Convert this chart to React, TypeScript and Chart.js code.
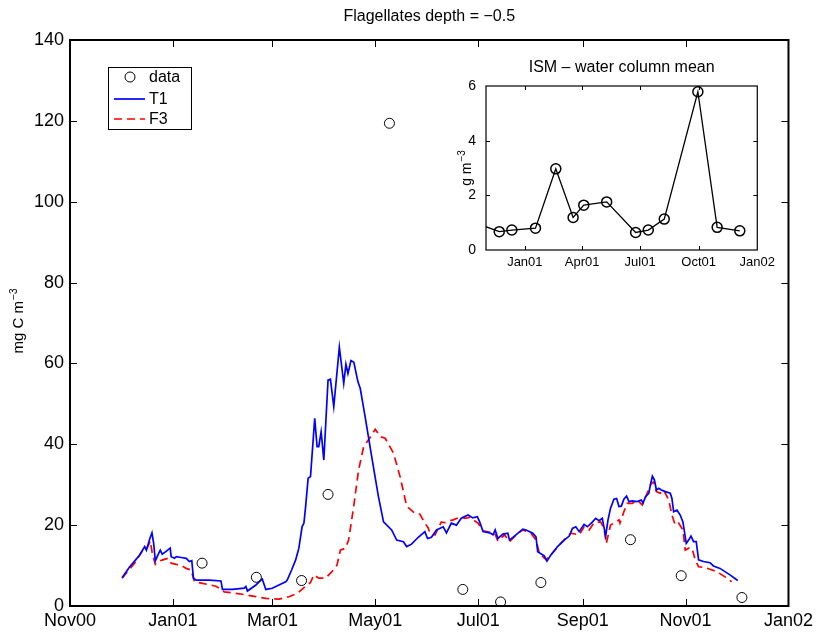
import React, { useEffect, useRef } from "react";
import { Chart, registerables } from "chart.js";

Chart.register(...registerables);

const FONT = "'Liberation Sans', Arial, Helvetica, sans-serif";

// x values are days since 1 Nov 2000
const xTickDays = [0, 61, 120, 181, 242, 304, 365, 426];
const xTickLabels = ["Nov00", "Jan01", "Mar01", "May01", "Jul01", "Sep01", "Nov01", "Jan02"];
const yTickValues = [0, 20, 40, 60, 80, 100, 120, 140];

const insetTickDays = [61, 151, 242, 334, 426];
const insetTickLabels = ["Jan01", "Apr01", "Jul01", "Oct01", "Jan02"];
const insetYTicks = [0, 2, 4, 6];

const obsDays = [78.3, 110.5, 137.3, 153.0, 189.4, 232.9, 255.3, 279.2, 332.3, 362.4, 398.4];
const obsValues = [10.6, 7.1, 6.3, 27.6, 119.4, 4.1, 1.0, 5.8, 16.4, 7.5, 2.1];

const t1Days = [
  30.9, 35.4, 38.3, 41.3, 44.3, 45.3, 47.2, 48.6, 49.6, 50.6,
  52.1, 53.5, 54.7, 56.6, 59.4, 60.0, 62.0, 63.0, 65.9, 68.9,
  70.8, 72.2, 73.2, 74.8, 82.6, 89.5, 90.4, 96.3, 103.3, 104.3,
  105.2, 110.2, 114.0, 116.1, 119.9, 123.9, 127.9, 128.8, 131.4, 133.8,
  135.7, 137.6, 138.7, 139.7, 141.2, 142.6, 145.1, 146.5, 147.5, 148.9,
  150.5, 153.0, 154.4, 156.4, 159.7, 162.3, 163.6, 164.8, 166.6, 168.3,
  170.7, 172.1, 175.0, 178.9, 182.9, 185.9, 190.7, 193.7, 197.7, 199.6,
  202.5, 206.5, 210.4, 212.0, 214.3, 217.3, 221.3, 223.2, 226.1, 229.1,
  232.0, 236.0, 238.9, 241.5, 242.9, 244.9, 248.8, 250.8, 252.1, 253.7,
  256.7, 259.6, 260.6, 263.5, 268.5, 270.4, 274.4, 276.3, 277.3, 281.2,
  282.8, 285.1, 289.1, 293.0, 296.0, 297.9, 299.9, 301.9, 304.8, 306.8,
  309.8, 311.7, 313.7, 315.6, 317.6, 319.0, 320.5, 322.5, 324.1, 325.5,
  326.9, 328.4, 330.0, 331.4, 333.4, 335.9, 338.7, 339.8, 341.2, 343.2,
  344.1, 345.3, 346.5, 347.7, 349.1, 350.6, 353.0, 355.9, 356.9, 357.9,
  359.9, 361.8, 363.4, 365.4, 366.8, 368.2, 369.7, 371.3, 372.7, 375.6,
  379.5, 381.5, 385.4, 391.3, 395.9,
];
const t1Values = [
  7.0, 9.7, 11.1, 12.6, 14.7, 13.8, 16.5, 18.1, 15.5, 11.2,
  12.6, 13.8, 12.8, 13.4, 14.3, 12.2, 11.8, 12.2, 12.0, 11.8,
  11.0, 11.2, 6.9, 6.4, 6.4, 6.2, 4.1, 4.1, 4.4, 4.8,
  3.7, 5.2, 6.7, 4.1, 4.4, 5.2, 6.0, 6.4, 8.9, 11.4,
  14.3, 19.6, 20.5, 24.6, 31.6, 32.0, 46.4, 39.4, 39.4, 43.1,
  36.1, 55.9, 56.1, 49.3, 64.0, 55.1, 59.8, 57.5, 60.7, 60.3,
  55.5, 53.8, 46.8, 36.9, 27.0, 20.8, 18.8, 16.3, 15.9, 14.7,
  15.3, 17.0, 18.4, 16.7, 17.0, 18.8, 19.6, 18.1, 20.5, 20.0,
  21.7, 22.5, 21.8, 22.1, 20.8, 18.4, 18.1, 17.6, 18.8, 16.7,
  17.8, 18.0, 16.3, 17.3, 19.0, 18.8, 18.0, 17.1, 13.4, 12.4,
  11.1, 12.6, 14.7, 16.3, 17.3, 19.2, 19.6, 18.4, 20.2, 19.6,
  20.8, 21.7, 21.1, 21.7, 17.3, 21.3, 24.2, 26.4, 26.6, 24.6,
  24.7, 26.4, 27.2, 25.8, 26.0, 25.8, 26.2, 25.5, 27.0, 27.9,
  29.9, 32.1, 31.2, 28.7, 29.1, 28.7, 28.3, 27.9, 26.6, 23.3,
  23.7, 22.5, 20.8, 15.5, 16.3, 17.3, 15.9, 15.9, 11.4, 11.0,
  10.7, 9.9, 9.3, 7.7, 6.3,
];

const f3Days = [
  30.9, 38.3, 43.2, 45.3, 46.6, 47.6, 48.8, 50.6, 52.1, 55.0,
  58.0, 60.0, 63.0, 65.9, 68.9, 71.8, 73.8, 78.6, 86.6, 91.5,
  102.2, 110.2, 116.1, 123.9, 129.8, 134.7, 139.7, 142.6, 144.6, 147.5,
  151.5, 155.3, 158.3, 160.3, 163.3, 165.2, 168.2, 171.1, 174.1, 177.0,
  181.0, 183.9, 186.9, 191.8, 195.7, 199.6, 204.6, 207.5, 210.4, 212.4,
  213.4, 216.4, 220.2, 222.2, 225.2, 227.2, 232.0, 234.0, 237.0, 241.9,
  244.9, 251.8, 253.7, 257.7, 260.6, 265.5, 268.5, 273.3, 276.3, 278.3,
  282.2, 285.1, 291.0, 297.0, 301.9, 304.8, 307.8, 310.7, 314.6, 316.6,
  318.0, 320.5, 322.5, 325.5, 326.1, 328.4, 330.4, 333.4, 336.3, 339.3,
  342.2, 344.6, 346.1, 347.7, 350.0, 352.0, 355.0, 356.9, 358.9, 360.9,
  363.4, 364.8, 366.8, 368.8, 370.7, 372.7, 375.6, 379.5, 383.5, 388.4, 392.3,
];
const f3Values = [
  6.9, 10.6, 13.8, 14.0, 15.1, 16.1, 13.0, 10.3, 11.0, 11.4,
  11.8, 10.6, 10.3, 10.1, 9.3, 8.9, 6.0, 5.6, 4.9, 3.5,
  2.9, 2.3, 1.9, 1.7, 2.3, 3.1, 4.9, 5.8, 7.7, 6.9,
  6.9, 8.5, 10.1, 13.8, 14.3, 16.3, 24.6, 33.6, 39.4, 41.1,
  43.7, 41.9, 41.5, 37.8, 32.0, 24.7, 22.9, 22.7, 20.5, 19.3,
  18.0, 17.6, 20.8, 20.6, 21.1, 21.3, 22.1, 21.7, 21.9, 20.5,
  18.6, 18.0, 16.1, 17.6, 15.9, 18.0, 18.8, 18.0, 16.3, 13.0,
  11.5, 12.6, 15.5, 18.0, 17.6, 19.6, 18.8, 20.6, 20.8, 19.2,
  15.5, 20.0, 20.5, 21.3, 20.5, 23.3, 25.4, 25.4, 26.2, 25.0,
  27.9, 30.3, 30.7, 28.3, 27.9, 28.7, 26.2, 22.5, 20.0, 20.5,
  18.8, 13.8, 14.3, 14.3, 11.4, 9.7, 9.6, 9.1, 8.5, 7.2, 6.0,
];

const ismDays = [-6, 20.8, 40.6, 77.7, 109.6, 136.8, 153.5, 189.5, 235.0, 254.8, 279.9, 332.7, 363.0, 398.5];
const ismValues = [0.9, 0.67, 0.73, 0.8, 2.97, 1.19, 1.64, 1.76, 0.64, 0.73, 1.13, 5.79, 0.83, 0.7];

const pts = (xs: number[], ys: number[]) => xs.map((x, i) => ({ x, y: ys[i] }));

function drawSupLabel(ctx: CanvasRenderingContext2D, cx: number, cy: number, base: string, sup: string, size: number, supSize: number) {
  ctx.save();
  ctx.translate(cx, cy);
  ctx.rotate(-Math.PI / 2);
  ctx.fillStyle = "#000";
  ctx.textAlign = "left";
  ctx.textBaseline = "alphabetic";
  ctx.font = `${size}px ${FONT}`;
  const w1 = ctx.measureText(base).width;
  ctx.font = `${supSize}px ${FONT}`;
  const w2 = ctx.measureText(sup).width;
  const start = -(w1 + w2 + 1) / 2;
  ctx.font = `${size}px ${FONT}`;
  ctx.fillText(base, start, size * 0.36);
  ctx.font = `${supSize}px ${FONT}`;
  ctx.fillText(sup, start + w1 + 1, size * 0.36 - size * 0.45);
  ctx.restore();
}

function drawFrame(chart: any, xt: number[], yt: number[], tickLen: number, boxWidth: number) {
  const { ctx, chartArea: a, scales } = chart;
  ctx.save();
  ctx.strokeStyle = "#000";
  ctx.lineWidth = 1;
  ctx.beginPath();
  for (const v of xt) {
    const px = Math.round(scales.x.getPixelForValue(v)) + 0.5;
    if (px <= a.left + 2 || px >= a.right - 2) continue;
    ctx.moveTo(px, a.bottom);
    ctx.lineTo(px, a.bottom - tickLen);
    ctx.moveTo(px, a.top);
    ctx.lineTo(px, a.top + tickLen);
  }
  for (const v of yt) {
    const py = Math.round(scales.y.getPixelForValue(v)) + 0.5;
    if (py <= a.top + 2 || py >= a.bottom - 2) continue;
    ctx.moveTo(a.left, py);
    ctx.lineTo(a.left + tickLen, py);
    ctx.moveTo(a.right, py);
    ctx.lineTo(a.right - tickLen, py);
  }
  ctx.stroke();
  ctx.lineWidth = boxWidth;
  ctx.strokeRect(a.left, a.top, a.right - a.left, a.bottom - a.top);
  ctx.restore();
}

const mainPlugin = {
  id: "mainDecor",
  afterDraw(chart: any) {
    const { ctx, chartArea: a } = chart;
    drawFrame(chart, xTickDays, yTickValues, 7, 2);
    ctx.save();
    ctx.fillStyle = "#000";
    ctx.font = `16px ${FONT}`;
    ctx.textAlign = "center";
    ctx.textBaseline = "middle";
    ctx.fillText("Flagellates depth = \u22120.5", (a.left + a.right) / 2, 17);
    ctx.restore();
    drawSupLabel(ctx, 18, 321, "mg C m", "\u22123", 15, 10);

    // legend
    const ds = chart.data.datasets;
    const lx = a.left + 38;
    const ly = a.top + 27;
    const lw = 83;
    const lh = 62;
    ctx.save();
    ctx.fillStyle = "#fff";
    ctx.fillRect(lx, ly, lw, lh);
    ctx.strokeStyle = "#000";
    ctx.lineWidth = 1;
    ctx.strokeRect(lx + 0.5, ly + 0.5, lw, lh);
    const rows = [ly + 10, ly + 32, ly + 52];
    ctx.font = `16px ${FONT}`;
    ctx.textAlign = "left";
    ctx.textBaseline = "middle";
    ds.forEach((d: any, i: number) => {
      const y = rows[i];
      ctx.save();
      if (i === 0) {
        ctx.strokeStyle = d.borderColor;
        ctx.lineWidth = 1;
        ctx.beginPath();
        ctx.arc(lx + 22, y, 5, 0, Math.PI * 2);
        ctx.stroke();
      } else {
        ctx.strokeStyle = d.borderColor;
        ctx.lineWidth = d.borderWidth;
        ctx.setLineDash(d.borderDash || []);
        ctx.beginPath();
        ctx.moveTo(lx + 6, y);
        ctx.lineTo(lx + 37, y);
        ctx.stroke();
      }
      ctx.restore();
      ctx.fillStyle = "#000";
      ctx.fillText(d.label, lx + 41, y + 1);
    });
    ctx.restore();
  },
};

const insetPlugin = {
  id: "insetDecor",
  beforeDraw(chart: any) {
    const { ctx, chartArea: a } = chart;
    ctx.save();
    ctx.fillStyle = "#fff";
    ctx.fillRect(a.left, a.top, a.right - a.left, a.bottom - a.top);
    ctx.restore();
  },
  afterDraw(chart: any) {
    const { ctx, chartArea: a } = chart;
    drawFrame(chart, insetTickDays, insetYTicks, 4, 1.2);
    ctx.save();
    ctx.fillStyle = "#000";
    ctx.font = `16px ${FONT}`;
    ctx.textAlign = "center";
    ctx.textBaseline = "middle";
    ctx.fillText("ISM \u2013 water column mean", (a.left + a.right) / 2, 18);
    ctx.restore();
    drawSupLabel(ctx, 36, 118, "g m", "\u22123", 14, 10);
  },
};

export default function App() {
  const mainRef = useRef<HTMLCanvasElement>(null);
  const insetRef = useRef<HTMLCanvasElement>(null);

  useEffect(() => {
    const main = new Chart(mainRef.current as HTMLCanvasElement, {
      type: "scatter",
      data: {
        datasets: [
          {
            label: "data",
            data: pts(obsDays, obsValues),
            showLine: false,
            pointStyle: "circle",
            pointRadius: 5,
            pointHoverRadius: 5,
            pointBorderWidth: 1,
            borderColor: "#000000",
            backgroundColor: "rgba(0,0,0,0)",
          },
          {
            label: "T1",
            data: pts(t1Days, t1Values),
            showLine: true,
            pointRadius: 0,
            borderColor: "#0000ff",
            borderWidth: 1.7,
            backgroundColor: "rgba(0,0,0,0)",
          },
          {
            label: "F3",
            data: pts(f3Days, f3Values),
            showLine: true,
            pointRadius: 0,
            borderColor: "#ff0000",
            borderWidth: 1.7,
            borderDash: [8, 5],
            backgroundColor: "rgba(0,0,0,0)",
          },
        ],
      },
      options: {
        animation: false,
        responsive: false,
        events: [],
        layout: { padding: { top: 40, right: 25, left: 0, bottom: 0 } },
        plugins: { legend: { display: false }, tooltip: { enabled: false }, title: { display: false } },
        scales: {
          x: {
            type: "linear",
            min: 0,
            max: 426,
            afterBuildTicks: (s: any) => {
              s.ticks = xTickDays.map((v) => ({ value: v }));
            },
            afterFit: (s: any) => {
              s.height = 26;
            },
            ticks: {
              autoSkip: false,
              maxRotation: 0,
              padding: 4,
              color: "#000",
              font: { family: FONT, size: 18 },
              callback: (v: any) => {
                const i = xTickDays.indexOf(Number(v));
                return i >= 0 ? xTickLabels[i] : "";
              },
            },
            grid: { display: false, drawTicks: false },
            border: { display: false },
          },
          y: {
            type: "linear",
            min: 0,
            max: 140,
            afterBuildTicks: (s: any) => {
              s.ticks = yTickValues.map((v) => ({ value: v }));
            },
            afterFit: (s: any) => {
              s.width = 70;
            },
            ticks: { padding: 6, color: "#000", font: { family: FONT, size: 18 } },
            grid: { display: false, drawTicks: false },
            border: { display: false },
          },
        },
      },
      plugins: [mainPlugin],
    } as any);

    const inset = new Chart(insetRef.current as HTMLCanvasElement, {
      type: "scatter",
      data: {
        datasets: [
          {
            label: "ISM",
            data: pts(ismDays, ismValues),
            showLine: true,
            borderColor: "#000000",
            borderWidth: 1.3,
            pointStyle: "circle",
            pointRadius: (c: any) => (ismDays[c.dataIndex] < 0 ? 0 : 5),
            pointHoverRadius: 5,
            pointBorderWidth: 1.5,
            pointBorderColor: "#000000",
            backgroundColor: "rgba(0,0,0,0)",
          },
        ],
      },
      options: {
        animation: false,
        responsive: false,
        events: [],
        layout: { padding: { top: 36, right: 22, left: 0, bottom: 0 } },
        plugins: { legend: { display: false }, tooltip: { enabled: false }, title: { display: false } },
        scales: {
          x: {
            type: "linear",
            min: 0,
            max: 426,
            afterBuildTicks: (s: any) => {
              s.ticks = insetTickDays.map((v) => ({ value: v }));
            },
            afterFit: (s: any) => {
              s.height = 32;
            },
            ticks: {
              autoSkip: false,
              maxRotation: 0,
              padding: 5,
              color: "#000",
              font: { family: FONT, size: 13 },
              callback: (v: any) => {
                const i = insetTickDays.indexOf(Number(v));
                return i >= 0 ? insetTickLabels[i] : "";
              },
            },
            grid: { display: false, drawTicks: false },
            border: { display: false },
          },
          y: {
            type: "linear",
            min: 0,
            max: 6,
            afterBuildTicks: (s: any) => {
              s.ticks = insetYTicks.map((v) => ({ value: v }));
            },
            afterFit: (s: any) => {
              s.width = 56;
            },
            ticks: { padding: 10, color: "#000", font: { family: FONT, size: 14 } },
            grid: { display: false, drawTicks: false },
            border: { display: false },
          },
        },
      },
      plugins: [insetPlugin],
    } as any);

    return () => {
      main.destroy();
      inset.destroy();
    };
  }, []);

  return (
    <div style={{ position: "absolute", left: 0, top: 0, width: 817, height: 632, background: "#fff" }}>
      <canvas ref={mainRef} width={817} height={632} style={{ position: "absolute", left: 0, top: 0 }} />
      <canvas ref={insetRef} width={350} height={232} style={{ position: "absolute", left: 430, top: 50 }} />
    </div>
  );
}
